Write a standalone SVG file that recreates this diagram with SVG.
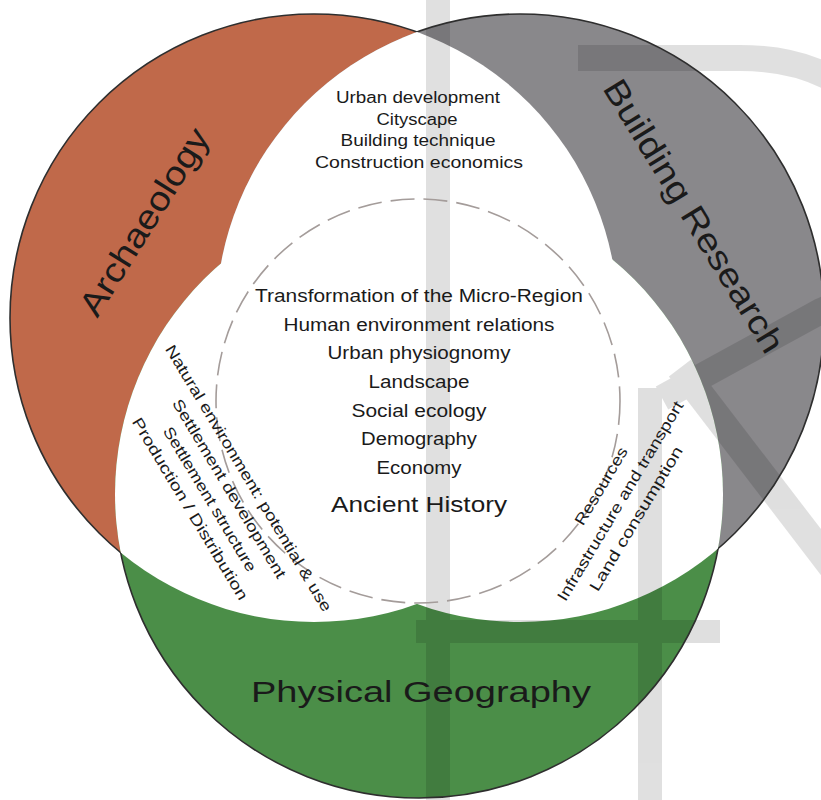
<svg xmlns="http://www.w3.org/2000/svg" width="821" height="800" viewBox="0 0 821 800">
<defs>
<style>
.t{font-family:"Liberation Sans",Arial,sans-serif;fill:#1a1a1a;text-anchor:middle}
.lens{font-size:16px}
.core{font-size:17.5px}
.side{font-size:15.5px}
.big{font-size:34px}
.edge{fill:none;stroke:#2e2e2e;stroke-width:1.6}
.hole{fill:#ffffff}
.wm{fill:none;stroke:#000000}
</style>
<clipPath id="cA"><circle cx="314" cy="318" r="304"/></clipPath>
<clipPath id="cB"><circle cx="520" cy="318" r="304"/></clipPath>
<mask id="mA" maskUnits="userSpaceOnUse" x="0" y="0" width="821" height="800">
<rect width="821" height="800" fill="#fff"/>
<circle cx="520" cy="318" r="304" fill="#000"/>
<circle cx="419" cy="494" r="304" fill="#000"/>
</mask>
<mask id="mB" maskUnits="userSpaceOnUse" x="0" y="0" width="821" height="800">
<rect width="821" height="800" fill="#fff"/>
<circle cx="314" cy="318" r="304" fill="#000"/>
<circle cx="419" cy="494" r="304" fill="#000"/>
</mask>
<mask id="mG" maskUnits="userSpaceOnUse" x="0" y="0" width="821" height="800">
<rect width="821" height="800" fill="#fff"/>
<circle cx="314" cy="318" r="304" fill="#000"/>
<circle cx="520" cy="318" r="304" fill="#000"/>
</mask>
</defs>
<rect width="821" height="800" fill="#ffffff"/>

<g id="fills">
<circle cx="314" cy="318" r="304" fill="#c0694a"/>
<circle cx="520" cy="318" r="304" fill="#89888b"/>
<circle cx="419" cy="494" r="304" fill="#4b8e48"/>
</g>
<g id="overlaps">
<circle class="hole" cx="520" cy="318" r="304" clip-path="url(#cA)"/>
<circle class="hole" cx="419" cy="494" r="304" clip-path="url(#cA)"/>
<circle class="hole" cx="419" cy="494" r="304" clip-path="url(#cB)"/>
</g>

<g id="watermark" opacity="0.12">
<rect x="426" y="0" width="24" height="800" fill="#000"/>
<rect x="416" y="620" width="304" height="23" fill="#000"/>
<rect x="638" y="388" width="24" height="412" fill="#000"/>
<path class="wm" stroke-width="26" d="M578 58 H740 C930 58 940 260 821 311 L662 398"/>
<path class="wm" stroke-width="28" d="M680 368 L850 590"/>
</g>

<g id="outline">
<circle class="edge" cx="314" cy="318" r="304" mask="url(#mA)"/>
<circle class="edge" cx="520" cy="318" r="304" mask="url(#mB)"/>
<circle class="edge" cx="419" cy="494" r="304" mask="url(#mG)"/>
</g>

<g id="core-circle">
<circle cx="418" cy="401" r="202" fill="none" stroke="#a49c9a" stroke-width="1.6" stroke-dasharray="24 9"/>
</g>

<g id="archaeology">
<text class="t big" transform="translate(154,228) rotate(-58)" textLength="214" lengthAdjust="spacingAndGlyphs">Archaeology</text>
</g>
<g id="building-research">
<text class="t big" transform="translate(684,222) rotate(58.5)" textLength="314" lengthAdjust="spacingAndGlyphs">Building Research</text>
</g>
<g id="physical-geography">
<text class="t" x="421" y="702" font-size="30" textLength="340" lengthAdjust="spacingAndGlyphs">Physical Geography</text>
</g>

<g id="archaeology-building">
<text class="t lens" x="418" y="103" textLength="164" lengthAdjust="spacingAndGlyphs">Urban development</text>
<text class="t lens" x="417" y="124.5" textLength="81" lengthAdjust="spacingAndGlyphs">Cityscape</text>
<text class="t lens" x="418" y="146" textLength="155" lengthAdjust="spacingAndGlyphs">Building technique</text>
<text class="t lens" x="419" y="167.5" textLength="208" lengthAdjust="spacingAndGlyphs">Construction economics</text>
</g>

<g id="archaeology-geography" transform="translate(276.6,460.2) rotate(59)">
<text class="t side" x="1" y="38.5" textLength="308" lengthAdjust="spacingAndGlyphs">Natural environment: potential &amp; use</text>
<text class="t side" x="0" y="60.5" textLength="206" lengthAdjust="spacingAndGlyphs">Settlement development</text>
<text class="t side" x="-1" y="82.5" textLength="166" lengthAdjust="spacingAndGlyphs">Settlement structure</text>
<text class="t side" x="-3" y="104.5" textLength="210" lengthAdjust="spacingAndGlyphs">Production / Distribution</text>
</g>

<g id="building-geography" transform="translate(618.7,502.5) rotate(-59)">
<text class="t side" x="5" y="-18.2" textLength="88" lengthAdjust="spacingAndGlyphs">Resources</text>
<text class="t side" x="2" y="5.8" textLength="230" lengthAdjust="spacingAndGlyphs">Infrastructure and transport</text>
<text class="t side" x="-5" y="28.5" textLength="166" lengthAdjust="spacingAndGlyphs">Land consumption</text>
</g>

<g id="center">
<text class="t core" x="419" y="302" textLength="328" lengthAdjust="spacingAndGlyphs">Transformation of the Micro-Region</text>
<text class="t core" x="419" y="330.5" textLength="271" lengthAdjust="spacingAndGlyphs">Human environment relations</text>
<text class="t core" x="419" y="359" textLength="183" lengthAdjust="spacingAndGlyphs">Urban physiognomy</text>
<text class="t core" x="419" y="388" textLength="101" lengthAdjust="spacingAndGlyphs">Landscape</text>
<text class="t core" x="419" y="416.5" textLength="135" lengthAdjust="spacingAndGlyphs">Social ecology</text>
<text class="t core" x="419" y="445" textLength="116" lengthAdjust="spacingAndGlyphs">Demography</text>
<text class="t core" x="419" y="473.5" textLength="85" lengthAdjust="spacingAndGlyphs">Economy</text>
<text class="t" x="419" y="511.5" font-size="22" textLength="176" lengthAdjust="spacingAndGlyphs">Ancient History</text>
</g>
</svg>
